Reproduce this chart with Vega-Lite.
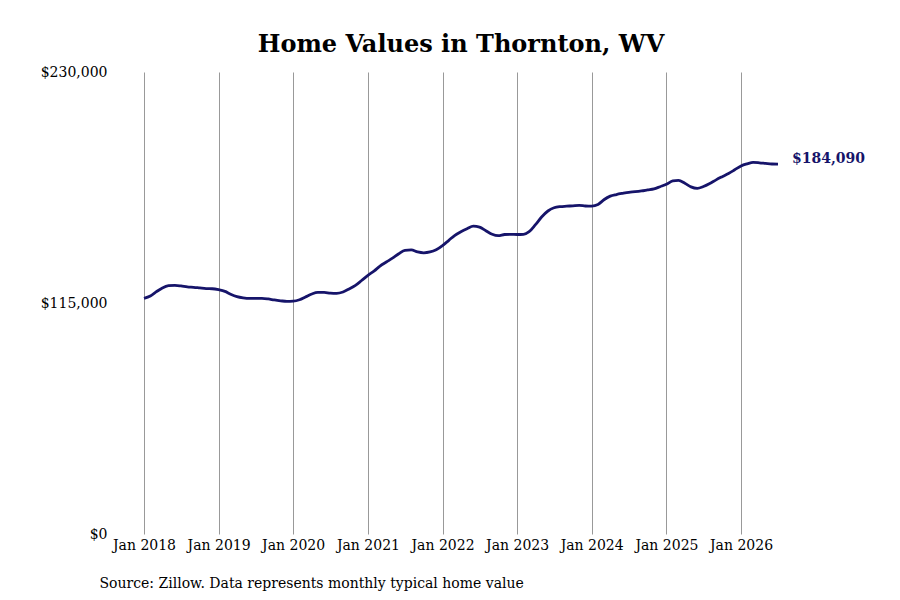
{
  "$schema": "https://vega.github.io/schema/vega-lite/v6.json",
  "width": 634,
  "height": 462,
  "autosize": "none",
  "padding": {"left": 144, "top": 72, "right": 122, "bottom": 66},
  "background": "white",
  "title": {
    "text": "Home Values in Thornton, WV",
    "font": "DejaVu Serif",
    "fontSize": 24,
    "fontWeight": "bold",
    "color": "black",
    "anchor": "middle",
    "offset": 8
  },
  "data": {
    "values": [
      {"date": "2018-01-01", "value": 117300},
      {"date": "2018-02-01", "value": 118500},
      {"date": "2018-03-01", "value": 120500},
      {"date": "2018-04-01", "value": 122500},
      {"date": "2018-05-01", "value": 123600},
      {"date": "2018-06-01", "value": 123800},
      {"date": "2018-07-01", "value": 123500},
      {"date": "2018-08-01", "value": 123000},
      {"date": "2018-09-01", "value": 122800},
      {"date": "2018-10-01", "value": 122500},
      {"date": "2018-11-01", "value": 122200},
      {"date": "2018-12-01", "value": 122100},
      {"date": "2019-01-01", "value": 121600},
      {"date": "2019-02-01", "value": 120800},
      {"date": "2019-03-01", "value": 119400},
      {"date": "2019-04-01", "value": 118200},
      {"date": "2019-05-01", "value": 117600},
      {"date": "2019-06-01", "value": 117300},
      {"date": "2019-07-01", "value": 117300},
      {"date": "2019-08-01", "value": 117300},
      {"date": "2019-09-01", "value": 117000},
      {"date": "2019-10-01", "value": 116500},
      {"date": "2019-11-01", "value": 116100},
      {"date": "2019-12-01", "value": 115800},
      {"date": "2020-01-01", "value": 115900},
      {"date": "2020-02-01", "value": 116600},
      {"date": "2020-03-01", "value": 118000},
      {"date": "2020-04-01", "value": 119500},
      {"date": "2020-05-01", "value": 120300},
      {"date": "2020-06-01", "value": 120300},
      {"date": "2020-07-01", "value": 119900},
      {"date": "2020-08-01", "value": 119800},
      {"date": "2020-09-01", "value": 120500},
      {"date": "2020-10-01", "value": 122000},
      {"date": "2020-11-01", "value": 123800},
      {"date": "2020-12-01", "value": 126200},
      {"date": "2021-01-01", "value": 128800},
      {"date": "2021-02-01", "value": 131000},
      {"date": "2021-03-01", "value": 133400},
      {"date": "2021-04-01", "value": 135400},
      {"date": "2021-05-01", "value": 137300},
      {"date": "2021-06-01", "value": 139500},
      {"date": "2021-07-01", "value": 141200},
      {"date": "2021-08-01", "value": 141400},
      {"date": "2021-09-01", "value": 140400},
      {"date": "2021-10-01", "value": 140000},
      {"date": "2021-11-01", "value": 140400},
      {"date": "2021-12-01", "value": 141500},
      {"date": "2022-01-01", "value": 143600},
      {"date": "2022-02-01", "value": 146200},
      {"date": "2022-03-01", "value": 148600},
      {"date": "2022-04-01", "value": 150500},
      {"date": "2022-05-01", "value": 152000},
      {"date": "2022-06-01", "value": 153300},
      {"date": "2022-07-01", "value": 152800},
      {"date": "2022-08-01", "value": 151000},
      {"date": "2022-09-01", "value": 149200},
      {"date": "2022-10-01", "value": 148500},
      {"date": "2022-11-01", "value": 149100},
      {"date": "2022-12-01", "value": 149200},
      {"date": "2023-01-01", "value": 149100},
      {"date": "2023-02-01", "value": 149200},
      {"date": "2023-03-01", "value": 150500},
      {"date": "2023-04-01", "value": 154000},
      {"date": "2023-05-01", "value": 157800},
      {"date": "2023-06-01", "value": 160800},
      {"date": "2023-07-01", "value": 162400},
      {"date": "2023-08-01", "value": 163000},
      {"date": "2023-09-01", "value": 163200},
      {"date": "2023-10-01", "value": 163400},
      {"date": "2023-11-01", "value": 163600},
      {"date": "2023-12-01", "value": 163300},
      {"date": "2024-01-01", "value": 163200},
      {"date": "2024-02-01", "value": 164000},
      {"date": "2024-03-01", "value": 166400},
      {"date": "2024-04-01", "value": 168200},
      {"date": "2024-05-01", "value": 169000},
      {"date": "2024-06-01", "value": 169600},
      {"date": "2024-07-01", "value": 170100},
      {"date": "2024-08-01", "value": 170400},
      {"date": "2024-09-01", "value": 170800},
      {"date": "2024-10-01", "value": 171300},
      {"date": "2024-11-01", "value": 171800},
      {"date": "2024-12-01", "value": 172900},
      {"date": "2025-01-01", "value": 174100},
      {"date": "2025-02-01", "value": 175800},
      {"date": "2025-03-01", "value": 176000},
      {"date": "2025-04-01", "value": 174600},
      {"date": "2025-05-01", "value": 172800},
      {"date": "2025-06-01", "value": 172100},
      {"date": "2025-07-01", "value": 173000},
      {"date": "2025-08-01", "value": 174500},
      {"date": "2025-09-01", "value": 176300},
      {"date": "2025-10-01", "value": 177900},
      {"date": "2025-11-01", "value": 179500},
      {"date": "2025-12-01", "value": 181300},
      {"date": "2026-01-01", "value": 183200},
      {"date": "2026-02-01", "value": 184300},
      {"date": "2026-03-01", "value": 185000},
      {"date": "2026-04-01", "value": 184800},
      {"date": "2026-05-01", "value": 184500},
      {"date": "2026-06-01", "value": 184200},
      {"date": "2026-07-01", "value": 184090}
    ]
  },
  "encoding": {
    "x": {
      "field": "date",
      "type": "temporal",
      "scale": {"domain": ["2018-01-01", "2026-07-01"]},
      "axis": {
        "values": ["2018-01-01", "2019-01-01", "2020-01-01", "2021-01-01", "2022-01-01", "2023-01-01", "2024-01-01", "2025-01-01", "2026-01-01"],
        "format": "%b %Y",
        "grid": true,
        "gridColor": "#999999",
        "gridWidth": 1,
        "domain": false,
        "ticks": false,
        "tickSize": 0,
        "labelPadding": 4,
        "labelOverlap": false,
        "labelFlush": false,
        "labelFont": "DejaVu Serif",
        "labelFontSize": 14,
        "labelColor": "black",
        "title": "Source: Zillow. Data represents monthly typical home value",
        "titleFont": "DejaVu Serif",
        "titleFontSize": 14,
        "titleFontWeight": "normal",
        "titleColor": "black",
        "titleAnchor": "start",
        "titleAlign": "left",
        "titleBaseline": "alphabetic",
        "titleX": -45,
        "titleY": 53
      }
    },
    "y": {
      "field": "value",
      "type": "quantitative",
      "scale": {"domain": [0, 230000]},
      "axis": {
        "values": [0, 115000, 230000],
        "format": "$,.0f",
        "grid": false,
        "domain": false,
        "ticks": false,
        "tickSize": 0,
        "labelPadding": 37,
        "labelFont": "DejaVu Serif",
        "labelFontSize": 14,
        "labelColor": "black",
        "title": null
      }
    }
  },
  "layer": [
    {
      "mark": {"type": "line", "color": "#16146a", "strokeWidth": 2.8, "interpolate": "monotone"}
    },
    {
      "transform": [{"filter": "datum.value == 184090"}],
      "mark": {
        "type": "text",
        "align": "left",
        "baseline": "middle",
        "dx": 14,
        "dy": -5,
        "font": "DejaVu Serif",
        "fontSize": 14,
        "fontWeight": "bold",
        "color": "#16146a"
      },
      "encoding": {
        "text": {"field": "value", "type": "quantitative", "format": "$,.0f"}
      }
    }
  ],
  "config": {
    "view": {"stroke": null}
  }
}
